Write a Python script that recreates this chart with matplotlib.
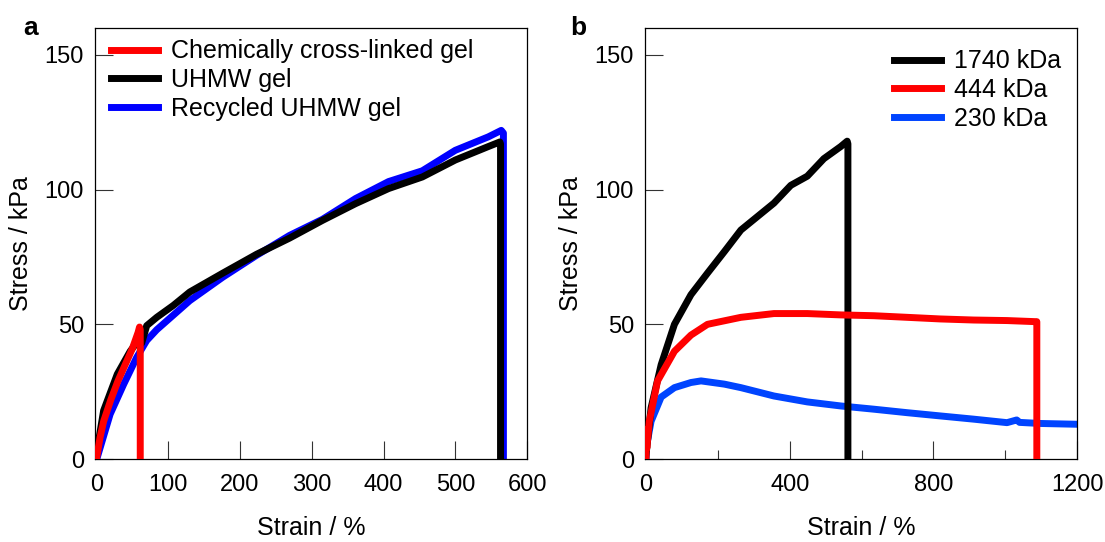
import matplotlib
matplotlib.use("Agg")
import matplotlib.pyplot as plt
from matplotlib.ticker import MultipleLocator

plt.rcParams['font.family'] = ['Liberation Sans', 'DejaVu Sans']

# panel a - strain (%) / stress (kPa)
chem_x = [0, 5, 10, 20, 30, 40, 50, 58, 60, 61, 61]
chem_y = [0, 8, 14, 22, 29, 35, 41, 47, 49, 48, 0]

uhmw_x = [0, 10, 29, 47, 61, 63, 70, 84, 107, 130, 176, 223, 269, 315, 361, 407, 454, 500, 546, 562, 563, 563]
uhmw_y = [2, 18, 31.5, 40, 45, 43, 49.5, 52.6, 57, 62, 69, 76, 82, 88.6, 94.8, 100.4, 104.7, 111, 116, 117.7, 117, 0]

recyc_x = [1, 19, 38, 56, 70, 84, 130, 176, 223, 269, 315, 361, 407, 454, 500, 546, 564, 567, 567]
recyc_y = [0.5, 16.6, 27.8, 37.7, 44, 48, 58.8, 67.5, 75.6, 83, 89, 96.7, 103, 107, 114.6, 119.6, 122, 121, 0]

# panel b - molecular weight series
mw1740_x = [0, 14, 42, 79, 125, 171, 218, 264, 310, 356, 403, 449, 495, 542, 560, 562, 562]
mw1740_y = [1.7, 19, 35, 50, 61, 69, 77, 85, 90, 95, 101.6, 105, 111.5, 116, 118, 117, 0]

mw444_x = [0, 0, 2, 9, 32, 79, 125, 171, 264, 356, 449, 542, 634, 727, 819, 912, 1005, 1083, 1088, 1088]
mw444_y = [0, 11, 4, 14, 29, 40, 46, 50, 52.6, 54, 54, 53.5, 53.2, 52.6, 52, 51.6, 51.4, 51, 51, 0]

mw230_x = [0, 0, 3, 14, 42, 79, 125, 153, 218, 264, 356, 449, 542, 634, 727, 819, 912, 1005, 1032, 1040, 1097, 1200]
mw230_y = [0, 12, 6, 14, 23, 26.5, 28.4, 29, 27.8, 26.5, 23.4, 21.2, 19.7, 18.5, 17.2, 16, 14.8, 13.5, 14.5, 13.6, 13.2, 12.9]

fig = plt.figure(figsize=(11.05, 5.42), dpi=100)
ax1 = fig.add_axes([0.086, 0.1531, 0.391, 0.7952])
ax2 = fig.add_axes([0.5837, 0.1531, 0.391, 0.7952])

lw = 5
ax1.plot(chem_x, chem_y, color='#ff0000', lw=lw, label='Chemically cross-linked gel', zorder=4)
ax1.plot(recyc_x, recyc_y, color='#0000ff', lw=lw, label='Recycled UHMW gel', zorder=2)
ax1.plot(uhmw_x, uhmw_y, color='black', lw=lw, label='UHMW gel', zorder=3)

ax2.plot(mw1740_x, mw1740_y, color='black', lw=lw, label='1740 kDa', zorder=3)
ax2.plot(mw444_x, mw444_y, color='#ff0000', lw=lw, label='444 kDa', zorder=4)
ax2.plot(mw230_x, mw230_y, color='#0044ff', lw=lw, label='230 kDa', zorder=2)

for ax in (ax1, ax2):
    ax.set_ylim(0, 160)
    ax.set_yticks([0, 50, 100, 150])
    ax.set_ylabel('Stress / kPa', fontsize=18, labelpad=8)
    ax.set_xlabel('Strain / %', fontsize=18, labelpad=14)
    ax.tick_params(which='major', direction='in', length=13, width=0.8, color='#333333', labelsize=17)
    ax.tick_params(which='minor', direction='in', length=6.5, width=0.8, color='#333333')
    ax.tick_params(axis='x', pad=11)
    ax.tick_params(axis='y', pad=8)
    for s in ax.spines.values():
        s.set_linewidth(0.9)

ax1.set_xlim(-2, 600)
ax1.set_xticks([0, 100, 200, 300, 400, 500, 600])
ax2.set_xlim(-3, 1200)
ax2.set_xticks([0, 400, 800, 1200])
ax2.xaxis.set_minor_locator(MultipleLocator(200))

h, l = ax1.get_legend_handles_labels()
order = [0, 2, 1]
ax1.legend([h[i] for i in order], [l[i] for i in order], loc='upper left',
           bbox_to_anchor=(0.01, 1.0), frameon=False,
           fontsize=18, handlelength=1.9, handletextpad=0.5, labelspacing=0.19,
           borderaxespad=0.2, borderpad=0.25)
ax2.legend(loc='upper right', bbox_to_anchor=(1.012, 1.0), frameon=False, fontsize=18,
           handlelength=1.9, handletextpad=0.5, labelspacing=0.19,
           borderaxespad=0.6, borderpad=0.25)

fig.text(23 / 1105, 1 - 35 / 542, 'a', fontsize=19, fontweight='bold')
fig.text(570 / 1105, 1 - 35 / 542, 'b', fontsize=19, fontweight='bold')

fig.savefig('out.png', dpi=100)
